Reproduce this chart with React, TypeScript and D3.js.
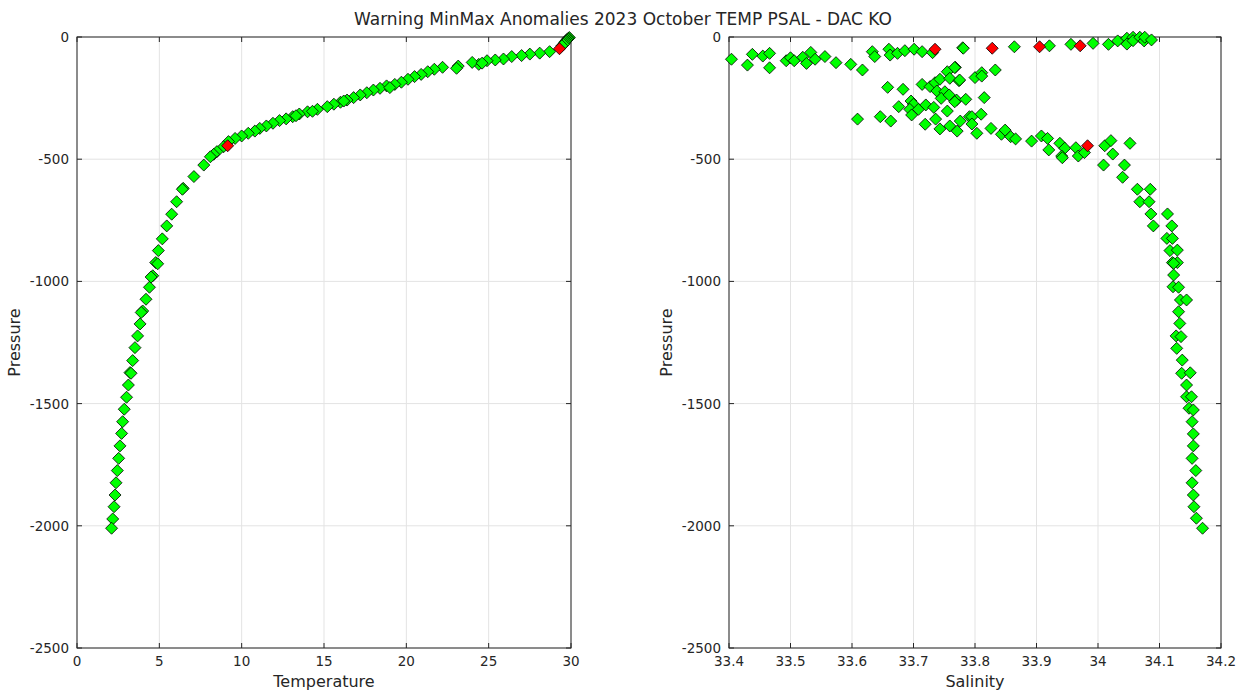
import React from "react";
import * as d3 from "d3";

const TITLE = "Warning MinMax Anomalies 2023 October TEMP PSAL - DAC KO";

// Temperature profile (good points)
const tempT = [29.9, 29.85, 29.8, 29.75, 29.7, 29.65, 29.6, 29.55, 29.45, 28.7, 28.1, 27.5, 27.0, 26.4, 25.9, 25.4, 24.9, 24.4, 24.0, 23.15, 23.05,
  22.2, 21.7, 21.3, 20.9, 20.5, 20.1, 19.7, 19.3, 18.8, 18.4, 18.0, 17.6, 17.2, 16.8, 16.4, 16.0, 15.6, 15.2, 14.6, 14.0, 13.5, 13.1, 12.7, 12.3,
  11.9, 11.5, 11.1, 10.8, 10.4, 10.0, 9.6, 9.2, 8.9, 8.5, 8.3, 8.1, 7.7, 7.1, 6.45, 6.4, 6.05, 5.75, 5.45, 5.18, 4.94, 4.78, 4.6, 4.4, 4.19, 3.99,
  3.83, 3.68, 3.52, 3.38, 3.22, 3.28, 3.12, 3.01, 2.87, 2.77, 2.71, 2.61, 2.53, 2.45, 2.37, 2.31, 2.25, 2.17, 2.1,
  14.3, 13.3, 16.2, 19.0, 24.6, 4.9, 4.5, 3.9];
const tempP = [-2, -5, -8, -12, -16, -20, -25, -30, -36, -60, -66, -70, -76, -80, -90, -94, -97, -112, -104, -119, -128,
  -124, -132, -142, -153, -162, -173, -185, -194, -200, -210, -217, -228, -237, -248, -258, -267, -275, -285, -296, -306, -315, -326, -335, -342,
  -353, -364, -374, -385, -394, -405, -415, -428, -449, -469, -480, -490, -524, -571, -619, -623, -674, -725, -773, -826, -874, -923, -977, -1024, -1073, -1121,
  -1174, -1223, -1271, -1324, -1373, -1376, -1424, -1474, -1523, -1574, -1622, -1673, -1724, -1774, -1824, -1874, -1922, -1972, -2010,
  -304, -322, -262, -207, -107, -928, -982, -1127];
// Temperature anomalies (red)
const tempAnomT = [29.3, 9.15];
const tempAnomP = [-48, -445];

// Salinity profile (good points)
const salS = [33.404, 33.430, 33.438, 33.455, 33.466, 33.466, 33.493, 33.500, 33.506, 33.520, 33.526, 33.533, 33.540, 33.556, 33.574, 33.598, 33.617,
  33.633, 33.637, 33.660, 33.662, 33.674, 33.686, 33.701, 33.714, 33.731, 33.780,
  33.658, 33.683, 33.714, 33.727, 33.735, 33.743, 33.738, 33.751, 33.745, 33.755, 33.768, 33.759, 33.774, 33.758, 33.770, 33.785,
  33.676, 33.696, 33.700, 33.694, 33.697, 33.708, 33.720, 33.733, 33.755, 33.609, 33.646, 33.663, 33.719, 33.736, 33.743, 33.759, 33.771, 33.776, 33.791,
  33.781, 33.864, 33.921, 33.956, 33.992, 34.017, 34.032, 34.047, 34.047, 34.057, 34.057, 34.068, 34.075, 34.076, 34.087,
  33.767, 33.775, 33.767, 33.800, 33.811, 33.811, 33.833, 33.815, 33.795, 33.795, 33.803, 33.810, 33.826, 33.843, 33.849, 33.858, 33.866, 33.892,
  33.908, 33.918, 33.920, 33.938, 33.946, 33.941, 33.942, 33.964, 33.968, 33.978, 34.011, 34.021, 34.024, 34.052, 34.009, 34.043,
  34.040, 34.064, 34.085, 34.068, 34.083, 34.086, 34.113, 34.090, 34.120, 34.112, 34.121, 34.117, 34.129, 34.121, 34.129,
  34.123, 34.123, 34.122, 34.131, 34.134, 34.144, 34.131, 34.133, 34.127, 34.135, 34.128, 34.137, 34.136, 34.150, 34.144, 34.144, 34.152, 34.148,
  34.155, 34.153, 34.155, 34.155, 34.153, 34.159, 34.153, 34.155, 34.156, 34.160, 34.170];
const salP = [-91, -115, -71, -78, -67, -126, -97, -85, -97, -83, -108, -63, -91, -80, -105, -112, -135,
  -60, -80, -50, -74, -67, -56, -50, -60, -64, -44,
  -206, -214, -194, -203, -187, -173, -221, -224, -251, -142, -124, -169, -179, -237, -258, -255,
  -285, -262, -275, -296, -319, -296, -278, -288, -303, -336, -326, -344, -357, -336, -376, -364, -385, -344, -326,
  -46, -40, -36, -30, -26, -30, -16, -5, -29, -1, -15, -1, -16, -1, -12,
  -125, -176, -265, -166, -146, -160, -135, -248, -326, -356, -394, -316, -374, -398, -381, -408, -417, -426,
  -405, -415, -462, -435, -455, -487, -494, -453, -487, -473, -445, -424, -479, -435, -524, -524,
  -574, -623, -623, -674, -674, -724, -724, -773, -773, -824, -824, -874, -872, -923, -923,
  -926, -974, -1022, -1024, -1076, -1076, -1124, -1172, -1223, -1226, -1274, -1322, -1376, -1374, -1424, -1472, -1472, -1519,
  -1526, -1574, -1624, -1673, -1724, -1774, -1824, -1874, -1922, -1969, -2010];
// Salinity anomalies (red)
const salAnomS = [33.735, 33.828, 33.905, 33.971, 33.983];
const salAnomP = [-50, -46, -40, -36, -445];

const tempTicks = [0, 5, 10, 15, 20, 25, 30];
const salTicks = [33.4, 33.5, 33.6, 33.7, 33.8, 33.9, 34, 34.1, 34.2];
const presTicks = [0, -500, -1000, -1500, -2000, -2500];

const FONT = "DejaVu Sans, sans-serif";
const AXC = "#262626";

function diamond(x: number, y: number, r: number) {
  return `M${x},${y - r}L${x + r},${y}L${x},${y + r}L${x - r},${y}Z`;
}

type PanelProps = {
  left: number; right: number; top: number; bottom: number;
  xDomain: [number, number]; xTicks: number[]; xLabel: string;
  xs: number[]; ps: number[]; axs: number[]; aps: number[];
};

function Panel(p: PanelProps) {
  const x = d3.scaleLinear().domain(p.xDomain).range([p.left, p.right]);
  const y = d3.scaleLinear().domain([-2500, 0]).range([p.bottom, p.top]);
  const tl = 5;
  const r = 6;
  return (
    <g>
      {p.xTicks.map((t, i) => (
        <line key={"gx" + i} x1={x(t)} x2={x(t)} y1={p.top} y2={p.bottom} stroke="#e3e3e3" strokeWidth={1} />
      ))}
      {presTicks.map((t, i) => (
        <line key={"gy" + i} x1={p.left} x2={p.right} y1={y(t)} y2={y(t)} stroke="#e3e3e3" strokeWidth={1} />
      ))}
      <rect x={p.left} y={p.top} width={p.right - p.left} height={p.bottom - p.top} fill="none" stroke={AXC} strokeWidth={1} />
      {p.xTicks.map((t, i) => (
        <g key={"tx" + i}>
          <line x1={x(t)} x2={x(t)} y1={p.bottom} y2={p.bottom - tl} stroke={AXC} />
          <line x1={x(t)} x2={x(t)} y1={p.top} y2={p.top + tl} stroke={AXC} />
          <text x={x(t)} y={p.bottom + 18} textAnchor="middle" fontSize={13.5} fill={AXC} fontFamily={FONT}>{String(t)}</text>
        </g>
      ))}
      {presTicks.map((t, i) => (
        <g key={"ty" + i}>
          <line x1={p.left} x2={p.left + tl} y1={y(t)} y2={y(t)} stroke={AXC} />
          <line x1={p.right} x2={p.right - tl} y1={y(t)} y2={y(t)} stroke={AXC} />
          <text x={p.left - 8} y={y(t) + 5} textAnchor="end" fontSize={13.5} fill={AXC} fontFamily={FONT}>{String(t)}</text>
        </g>
      ))}
      <text x={(p.left + p.right) / 2} y={p.bottom + 39} textAnchor="middle" fontSize={16} fill={AXC} fontFamily={FONT}>{p.xLabel}</text>
      <text transform={`translate(${p.left - 57},${(p.top + p.bottom) / 2}) rotate(-90)`} textAnchor="middle" fontSize={16} fill={AXC} fontFamily={FONT}>Pressure</text>
      {p.xs.map((v, i) => (
        <path key={"p" + i} d={diamond(x(v), y(p.ps[i]), r)} fill="#00ff00" stroke="#000" strokeWidth={0.8} />
      ))}
      {p.axs.map((v, i) => (
        <path key={"a" + i} d={diamond(x(v), y(p.aps[i]), r)} fill="#ff0000" stroke="#000" strokeWidth={0.8} />
      ))}
    </g>
  );
}

export default function App() {
  return (
    <svg width={1250} height={693} style={{ position: "absolute", left: 0, top: 0, background: "#fff" }}>
      <rect x={0} y={0} width={1250} height={693} fill="#fff" />
      <text x={623} y={25} textAnchor="middle" fontSize={17} fill={AXC} fontFamily={FONT}>{TITLE}</text>
      <Panel left={77} right={571} top={37} bottom={648} xDomain={[0, 30]} xTicks={tempTicks} xLabel="Temperature"
        xs={tempT} ps={tempP} axs={tempAnomT} aps={tempAnomP} />
      <Panel left={729} right={1221} top={37} bottom={648} xDomain={[33.4, 34.2]} xTicks={salTicks} xLabel="Salinity"
        xs={salS} ps={salP} axs={salAnomS} aps={salAnomP} />
    </svg>
  );
}
